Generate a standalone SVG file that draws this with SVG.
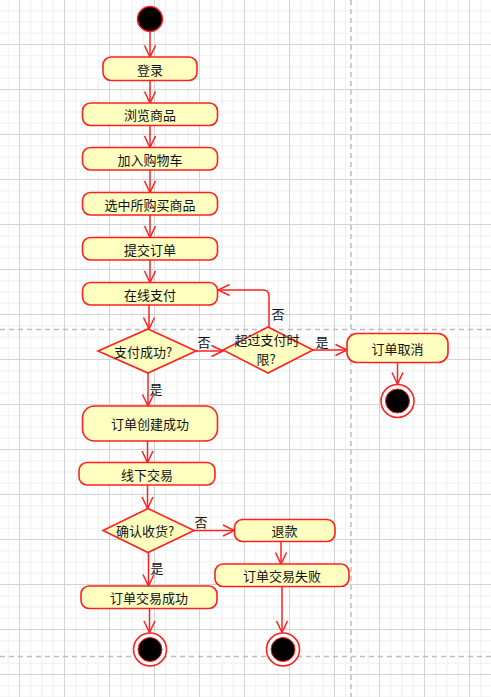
<svg xmlns="http://www.w3.org/2000/svg" width="491" height="697" viewBox="0 0 491 697">
<style>
.box{fill:#ffffc0;stroke:#ff2020;stroke-width:1.6}
.dia{fill:#ffffc0;stroke:#ff2020;stroke-width:1.6}
.edge{fill:none;stroke:#ff2020;stroke-width:1.5}
.t{font-family:"Noto Sans CJK SC","Liberation Sans",sans-serif;font-size:13px;fill:#111;text-anchor:middle;dominant-baseline:central}
.lbl{font-family:"Noto Sans CJK SC","Liberation Sans",sans-serif;font-size:13px;fill:#111;text-anchor:middle;dominant-baseline:central}
.dash{stroke:#bdbdbd;stroke-width:1.5;stroke-dasharray:5,4;fill:none}
</style>
<defs>
<pattern id="grid" patternUnits="userSpaceOnUse" x="19" y="-1" width="45" height="45">
<rect width="45" height="45" fill="#ffffff"/>
<path d="M11.75,0V45M23,0V45M34.25,0V45M0,11.75H45M0,23H45M0,34.25H45" stroke="#efefef" stroke-width="1"/>
<path d="M0.5,0V45M0,0.5H45" stroke="#d4d4d4" stroke-width="1"/>
</pattern>
<marker id="arr" viewBox="0 0 14 14" refX="12.5" refY="7" markerWidth="14" markerHeight="14" markerUnits="userSpaceOnUse" orient="auto">
<path d="M1,1.5 L12.5,7 L1,12.5" fill="none" stroke="#ff2020" stroke-width="1.5"/>
</marker>
</defs>
<rect x="0" y="0" width="491" height="697" fill="url(#grid)"/>
<g id="swimlanes">
<path class="dash" d="M0,329.5H491M0,656.5H491M351,0V697"/>
</g>
<g id="connectors">
<path class="edge" marker-end="url(#arr)" d="M150,32V57"/>
<path class="edge" marker-end="url(#arr)" d="M150,81V103"/>
<path class="edge" marker-end="url(#arr)" d="M150,125.5V147.5"/>
<path class="edge" marker-end="url(#arr)" d="M150,170V192.5"/>
<path class="edge" marker-end="url(#arr)" d="M150,215V237.5"/>
<path class="edge" marker-end="url(#arr)" d="M150,260V282.5"/>
<path class="edge" marker-end="url(#arr)" d="M149,305V329"/>
<path class="edge" marker-end="url(#arr)" d="M196,351H223"/>
<text class="lbl" x="204" y="341">否</text>
<path class="edge" marker-end="url(#arr)" d="M269,327V296Q269,290 263,290H218"/>
<text class="lbl" x="278" y="313">否</text>
<path class="edge" marker-end="url(#arr)" d="M313,350H347"/>
<text class="lbl" x="322" y="341">是</text>
<path class="edge" marker-end="url(#arr)" d="M397.5,362.5V384"/>
<path class="edge" marker-end="url(#arr)" d="M148,373V406"/>
<text class="lbl" x="156" y="388">是</text>
<path class="edge" marker-end="url(#arr)" d="M147.5,441V462.5"/>
<path class="edge" marker-end="url(#arr)" d="M147.5,485V508.5"/>
<path class="edge" marker-end="url(#arr)" d="M194,530.5H234.5"/>
<text class="lbl" x="201" y="521">否</text>
<path class="edge" marker-end="url(#arr)" d="M281,541.5V564"/>
<path class="edge" marker-end="url(#arr)" d="M282,586.5V632.5"/>
<path class="edge" marker-end="url(#arr)" d="M148.5,552.5V586"/>
<text class="lbl" x="157" y="567">是</text>
<path class="edge" marker-end="url(#arr)" d="M149.5,608.5V632.5"/>
</g>
<g id="start"><circle cx="150" cy="19" r="12.5" fill="#000" stroke="#ff2020" stroke-width="1.5"/></g>
<g id="login"><rect class="box" x="103" y="57" width="94" height="23.5" rx="8"/><text class="t" x="150" y="69">登录</text></g>
<g id="browse"><rect class="box" x="82.5" y="103" width="135" height="22.5" rx="8"/><text class="t" x="150" y="114">浏览商品</text></g>
<g id="cart"><rect class="box" x="82.5" y="147.5" width="135" height="22.5" rx="8"/><text class="t" x="150" y="159">加入购物车</text></g>
<g id="select"><rect class="box" x="82.5" y="192.5" width="135" height="22.5" rx="8"/><text class="t" x="150" y="204">选中所购买商品</text></g>
<g id="submit"><rect class="box" x="82.5" y="237.5" width="135" height="22.5" rx="8"/><text class="t" x="150" y="249">提交订单</text></g>
<g id="pay"><rect class="box" x="82.5" y="282.5" width="135" height="22.5" rx="8"/><text class="t" x="150" y="294">在线支付</text></g>
<g id="paid"><polygon class="dia" points="148,329 196,351 148,373 98,351"/><text class="t" x="143" y="351">支付成功?</text></g>
<g id="timeout"><polygon class="dia" points="268,327 313,350 268,373 223,350"/><text class="t" x="267" y="339.5">超过支付时</text><text class="t" x="266" y="358.5">限?</text></g>
<g id="cancel"><rect class="box" x="347" y="333.5" width="101" height="29" rx="10"/><text class="t" x="397.5" y="348">订单取消</text></g>
<g id="end1"><circle cx="397.5" cy="401" r="16.5" fill="#fff" stroke="#ff2020" stroke-width="1.6"/><circle cx="397.5" cy="401" r="12" fill="#000" stroke="#ff2020" stroke-width="1"/></g>
<g id="created"><rect class="box" x="82.5" y="406" width="135" height="35" rx="12"/><text class="t" x="150" y="423.5">订单创建成功</text></g>
<g id="offline"><rect class="box" x="79" y="462.5" width="136" height="22.5" rx="8"/><text class="t" x="147" y="474">线下交易</text></g>
<g id="received"><polygon class="dia" points="148,508.5 194,530.5 148,552.5 103,530.5"/><text class="t" x="145" y="530.5">确认收货?</text></g>
<g id="refund"><rect class="box" x="234.5" y="519.5" width="100.5" height="22" rx="8"/><text class="t" x="284.5" y="530.5">退款</text></g>
<g id="failed"><rect class="box" x="215" y="564" width="134" height="22.5" rx="8"/><text class="t" x="282" y="575.5">订单交易失败</text></g>
<g id="success"><rect class="box" x="81" y="586" width="136" height="22.5" rx="8"/><text class="t" x="149" y="597.5">订单交易成功</text></g>
<g id="end2"><circle cx="150" cy="649.5" r="16.5" fill="#fff" stroke="#ff2020" stroke-width="1.6"/><circle cx="150" cy="649.5" r="12" fill="#000" stroke="#ff2020" stroke-width="1"/></g>
<g id="end3"><circle cx="283" cy="649.5" r="16.5" fill="#fff" stroke="#ff2020" stroke-width="1.6"/><circle cx="283" cy="649.5" r="12" fill="#000" stroke="#ff2020" stroke-width="1"/></g>
</svg>
